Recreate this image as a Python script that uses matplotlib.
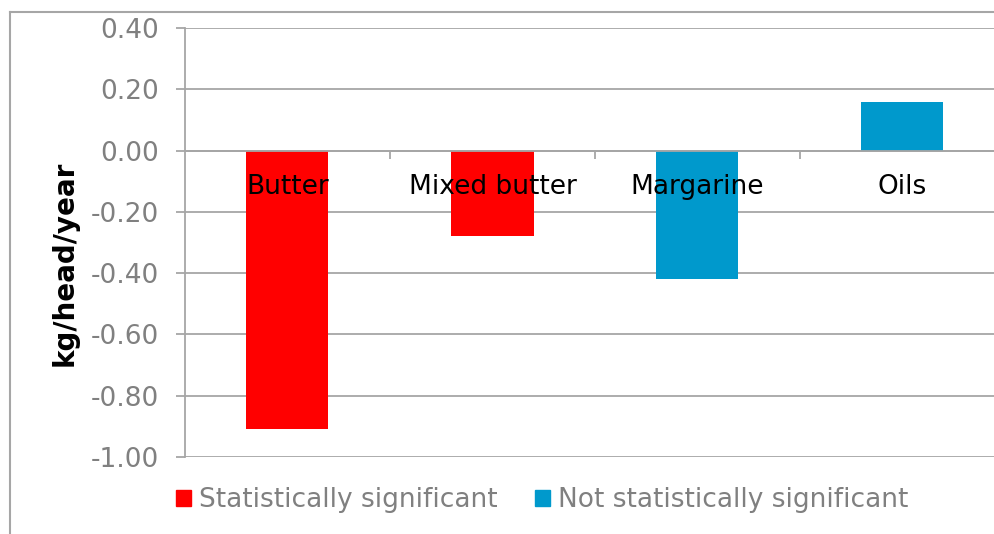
import matplotlib.pyplot as plt
from matplotlib.lines import Line2D
from matplotlib.patches import Patch

# values
categories = ['Butter', 'Mixed butter', 'Margarine', 'Oils']
values = [-0.91, -0.28, -0.42, 0.16]
significant = [True, True, False, False]
yticks = [-1.0, -0.8, -0.6, -0.4, -0.2, 0.0, 0.2, 0.4]

red = '#FF0000'
blue = '#0099CC'
grey = '#A6A6A6'
text_grey = '#808080'

plt.rcParams['font.family'] = ['DejaVu Sans']

fig = plt.figure(figsize=(9.95, 5.34), dpi=100)
ax = fig.add_axes([185 / 995, 1 - 457 / 534, 820 / 995, (457 - 28) / 534])

x = list(range(len(categories)))
colors = [red if s else blue for s in significant]
ax.bar(x, values, width=0.4, color=colors, zorder=2)

ax.set_xlim(-0.5, len(categories) - 0.5)
ax.set_ylim(-1.0, 0.4)
ax.set_yticks(yticks)
ax.set_yticklabels(['{:.2f}'.format(v) for v in yticks])
ax.yaxis.grid(True, color=grey, linewidth=1.3)
ax.yaxis.set_zorder(0.5)
ax.xaxis.set_zorder(5)

for s in ['top', 'right']:
    ax.spines[s].set_visible(False)
ax.spines['left'].set_color(grey)
ax.spines['left'].set_linewidth(1.3)
ax.spines['bottom'].set_position(('data', 0))
ax.spines['bottom'].set_color(grey)
ax.spines['bottom'].set_linewidth(1.3)
ax.spines['bottom'].set_zorder(3)

ax.tick_params(axis='y', colors=grey, labelcolor=text_grey, labelsize=19,
               length=6.5, width=1.3, pad=12)
ax.set_xticks(x)
ax.set_xticklabels(categories)
ax.set_xticks([0.5, 1.5, 2.5], minor=True)
ax.tick_params(axis='x', which='major', length=0, pad=17, labelsize=19,
               labelcolor='black')
ax.tick_params(axis='x', which='minor', length=6, width=1.3, color=grey,
               direction='out')

fig.text(65 / 995, 1 - 263 / 534, 'kg/head/year', rotation=90, fontsize=20,
         fontweight='bold', ha='center', va='center')

handles = [Patch(color=red, label='Statistically significant'),
           Patch(color=blue, label='Not statistically significant')]
fig.legend(handles=handles, loc='center', bbox_to_anchor=(542 / 995, 1 - 500 / 534),
           ncol=2, frameon=False, fontsize=19, labelcolor=text_grey,
           handlelength=0.57, handleheight=0.57, handletextpad=0.3, columnspacing=1.4)

# outer chart border
fig.add_artist(Line2D([10 / 995, 10 / 995], [0, 1 - 12 / 534], color=grey, linewidth=1.5))
fig.add_artist(Line2D([10 / 995, 1], [1 - 12 / 534, 1 - 12 / 534], color=grey, linewidth=1.5))

fig.savefig('out.png', dpi=100)
